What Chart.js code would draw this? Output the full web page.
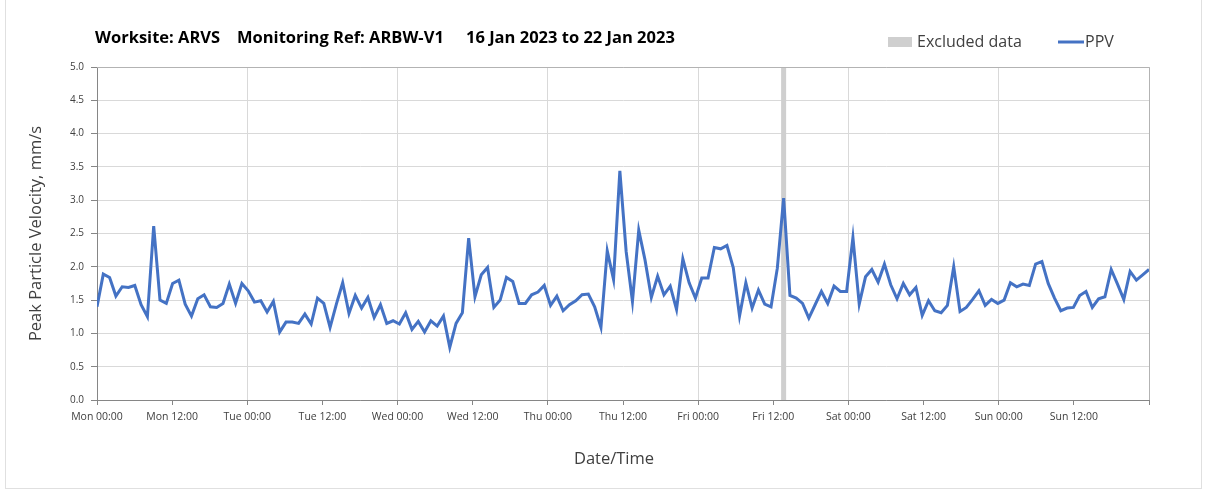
<!DOCTYPE html>
<html>
<head>
<meta charset="utf-8">
<script src="https://cdn.jsdelivr.net/npm/chart.js@4.4.0/dist/chart.umd.min.js"></script>
<style>
  html, body { margin: 0; padding: 0; background: #fff; }
  #wrap { position: relative; width: 1208px; height: 493px; }
  #frame { position: absolute; left: 5px; top: -1px; width: 1197px; height: 490px; border: 1px solid #e0e0e0; box-sizing: border-box; pointer-events: none; }
</style>
</head>
<body>
<div id="wrap">
  <canvas id="ppvChart" width="1208" height="493"></canvas>
  <div id="frame"></div>
</div>
<script>
// Title pieces and where each starts
const titleParts = ['Worksite: ARVS', 'Monitoring Ref: ARBW-V1', '16 Jan 2023 to 22 Jan 2023'];
const titleStarts = [95, 237, 466];
const legendLabels = ['Excluded data', 'PPV'];
const xTitle = 'Date/Time';
const yTitle = 'Peak Particle Velocity, mm/s';

// Tick labels every 12 hours from Mon 00:00
const tickLabels = [
  'Mon 00:00', 'Mon 12:00', 'Tue 00:00', 'Tue 12:00', 'Wed 00:00', 'Wed 12:00',
  'Thu 00:00', 'Thu 12:00', 'Fri 00:00', 'Fri 12:00', 'Sat 00:00', 'Sat 12:00',
  'Sun 00:00', 'Sun 12:00'
];

// Span of the week in hours
const weekHours = 168;

// Excluded data period (hours from Mon 00:00)
const excludedFrom = [109.25];
const excludedTo = [110.05];

// PPV readings (mm/s), one per sample across the week
const ppv = [
  1.40, 1.89, 1.84, 1.56, 1.70, 1.69, 1.72, 1.43, 1.25, 2.61, 1.50, 1.45,
  1.75, 1.80, 1.44, 1.26, 1.52, 1.58, 1.40, 1.39, 1.45, 1.74, 1.45, 1.75,
  1.64, 1.47, 1.49, 1.32, 1.48, 1.02, 1.17, 1.17, 1.15, 1.29, 1.14, 1.53,
  1.45, 1.09, 1.44, 1.76, 1.30, 1.57, 1.38, 1.54, 1.24, 1.43, 1.15, 1.19,
  1.14, 1.31, 1.06, 1.18, 1.02, 1.19, 1.11, 1.26, 0.79, 1.15, 1.31, 2.43,
  1.55, 1.88, 1.99, 1.39, 1.50, 1.84, 1.78, 1.45, 1.45, 1.58, 1.62, 1.72,
  1.42, 1.56, 1.34, 1.43, 1.49, 1.58, 1.59, 1.40, 1.09, 2.24, 1.81, 3.44,
  2.23, 1.48, 2.55, 2.10, 1.54, 1.86, 1.58, 1.71, 1.36, 2.12, 1.76, 1.53,
  1.83, 1.83, 2.29, 2.27, 2.32, 1.99, 1.26, 1.76, 1.38, 1.65, 1.44, 1.40,
  1.98, 3.03, 1.57, 1.53, 1.45, 1.23, 1.43, 1.63, 1.45, 1.71, 1.63, 1.63,
  2.44, 1.44, 1.85, 1.96, 1.77, 2.04, 1.73, 1.52, 1.75, 1.58, 1.69, 1.27,
  1.49, 1.34, 1.31, 1.42, 2.00, 1.33, 1.39, 1.51, 1.64, 1.42, 1.51, 1.45,
  1.50, 1.76, 1.70, 1.74, 1.72, 2.04, 2.08, 1.75, 1.53, 1.34, 1.38, 1.39,
  1.57, 1.63, 1.39, 1.52, 1.55, 1.96, 1.74, 1.51, 1.93, 1.80, 1.88, 1.96
];

// samples are spread evenly over the week
const sampleStep = weekHours / (ppv.length - 1);
const points = ppv.map((v, i) => ({ x: i * sampleStep, y: v }));

const fontFamily = '"Open Sans", Lato, sans-serif';

// Draws the excluded band, the plot frame, title, legend and x title
const decorations = {
  id: 'decorations',
  beforeDatasetsDraw(chart) {
    const { ctx, chartArea, scales } = chart;
    ctx.save();
    ctx.fillStyle = '#cfcfcf';
    excludedFrom.forEach((from, i) => {
      const x1 = scales.x.getPixelForValue(from);
      const x2 = scales.x.getPixelForValue(excludedTo[i]);
      ctx.fillRect(x1, chartArea.top, x2 - x1, chartArea.bottom - chartArea.top);
    });
    ctx.strokeStyle = '#b3b3b3';
    ctx.lineWidth = 1;
    ctx.beginPath();
    ctx.moveTo(chartArea.left, chartArea.top + 0.5);
    ctx.lineTo(chartArea.right + 0.5, chartArea.top + 0.5);
    ctx.lineTo(chartArea.right + 0.5, chartArea.bottom);
    ctx.stroke();
    ctx.restore();
  },
  afterDraw(chart) {
    const { ctx } = chart;
    ctx.save();
    ctx.textBaseline = 'middle';
    ctx.textAlign = 'left';
    ctx.fillStyle = '#000';
    ctx.font = 'bold 16.5px ' + fontFamily;
    titleParts.forEach((t, i) => ctx.fillText(t, titleStarts[i], 38));

    ctx.font = '16px ' + fontFamily;
    ctx.fillStyle = '#cfcfcf';
    ctx.fillRect(888, 37, 24, 10);
    ctx.fillStyle = '#404040';
    ctx.fillText(legendLabels[0], 917, 42);

    ctx.strokeStyle = '#4472C4';
    ctx.lineWidth = 3;
    ctx.beginPath();
    ctx.moveTo(1058, 42);
    ctx.lineTo(1084, 42);
    ctx.stroke();
    ctx.fillText(legendLabels[1], 1085, 42);

    ctx.textAlign = 'center';
    ctx.font = '16.5px ' + fontFamily;
    ctx.fillText(xTitle, 614, 459);
    ctx.restore();
  }
};

const ctx = document.getElementById('ppvChart').getContext('2d');
new Chart(ctx, {
  type: 'line',
  data: {
    datasets: [{
      label: 'PPV',
      data: points,
      borderColor: '#4472C4',
      borderWidth: 3,
      pointRadius: 0,
      tension: 0,
      fill: false
    }]
  },
  options: {
    responsive: false,
    animation: false,
    layout: { padding: { left: 26, right: 59, top: 67, bottom: 25 } },
    plugins: {
      legend: { display: false },
      title: { display: false },
      tooltip: { enabled: false }
    },
    scales: {
      x: {
        type: 'linear',
        min: 0,
        max: weekHours,
        afterFit(scale) { scale.height = 68; },
        afterBuildTicks(scale) {
          scale.ticks = [];
          for (let h = 0; h <= weekHours; h += 12) scale.ticks.push({ value: h });
        },
        ticks: {
          autoSkip: false,
          maxRotation: 0,
          padding: 6,
          color: '#404040',
          font: { family: fontFamily, size: 10.5 },
          callback: (v) => tickLabels[v / 12] || ''
        },
        grid: {
          color: (c) => (c.tick && c.tick.value % 24 === 0 ? '#d9d9d9' : 'rgba(0,0,0,0)'),
          tickColor: '#868686',
          tickLength: 5
        },
        border: { color: '#868686' }
      },
      y: {
        min: 0,
        max: 5,
        afterFit(scale) { scale.width = 71; },
        ticks: {
          stepSize: 0.5,
          padding: 7,
          color: '#404040',
          font: { family: fontFamily, size: 10 },
          callback: (v) => v.toFixed(1)
        },
        grid: {
          color: '#d9d9d9',
          tickColor: '#868686',
          tickLength: 6
        },
        border: { color: '#868686' },
        title: {
          display: true,
          text: yTitle,
          color: '#404040',
          font: { family: fontFamily, size: 16.5 },
          padding: 0
        }
      }
    }
  },
  plugins: [decorations]
});
</script>
</body>
</html>
